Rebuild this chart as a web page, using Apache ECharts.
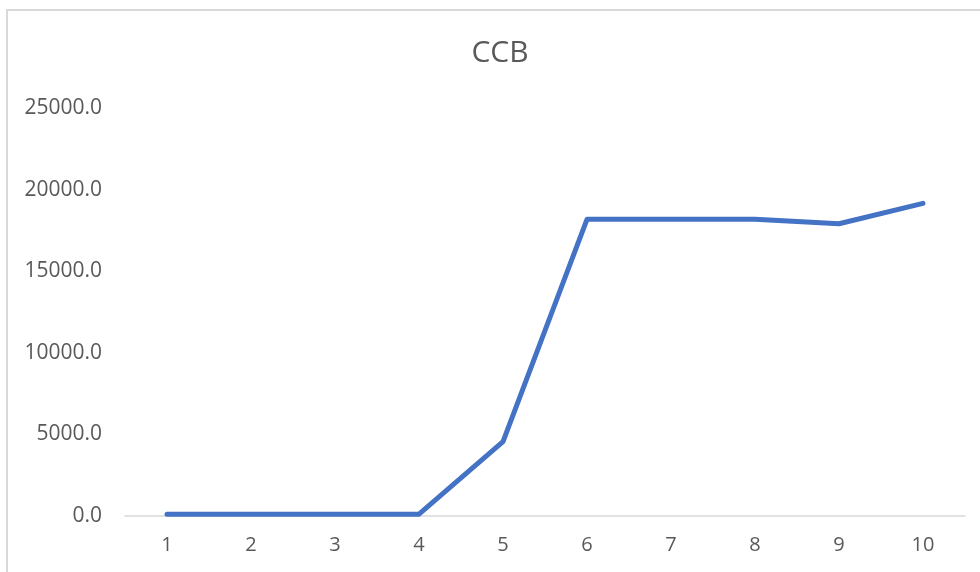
<!DOCTYPE html>
<html>
<head>
<meta charset="utf-8">
<script src="https://cdn.jsdelivr.net/npm/echarts@6/dist/echarts.min.js"></script>
<style>
html,body{margin:0;padding:0;background:#fff;}
#chart{width:980px;height:572px;}
</style>
</head>
<body>
<div id="chart"></div>
<script>
const titleText = "CCB";
const categories = ["1","2","3","4","5","6","7","8","9","10"];
const values = [110, 110, 110, 110, 4560, 18180, 18180, 18180, 17910, 19160];
const yMin = 0, yMax = 25000, yStep = 5000;

const chart = echarts.init(document.getElementById('chart'), null, {renderer: 'canvas'});
chart.setOption({
  backgroundColor: '#ffffff',
  animation: false,
  title: {
    text: titleText,
    left: 495,
    textAlign: 'center',
    top: 33,
    textStyle: {fontFamily: 'Open Sans', fontSize: 30, fontWeight: 'normal', color: '#595959'}
  },
  graphic: [{
    type: 'rect',
    shape: {x: 7, y: 10, width: 1000, height: 600},
    style: {fill: 'none', stroke: '#d9d9d9', lineWidth: 2},
    silent: true
  }],
  grid: {left: 125, right: 15, top: 108, bottom: 56},
  xAxis: {
    type: 'category',
    data: categories,
    boundaryGap: true,
    axisLine: {show: true, lineStyle: {color: '#d9d9d9', width: 1.5}},
    axisTick: {show: false},
    axisLabel: {color: '#595959', fontFamily: 'Open Sans', fontSize: 20, margin: 19}
  },
  yAxis: {
    type: 'value',
    min: yMin, max: yMax, interval: yStep,
    axisLine: {show: false},
    axisTick: {show: false},
    splitLine: {show: false},
    axisLabel: {color: '#595959', fontFamily: 'Open Sans', fontSize: 21, margin: 23,
      formatter: v => v.toFixed(1)}
  },
  series: [{
    type: 'line',
    data: values,
    symbol: 'none',
    lineStyle: {color: '#4472C4', width: 5, cap: 'round', join: 'round'}
  }]
});
</script>
</body>
</html>
